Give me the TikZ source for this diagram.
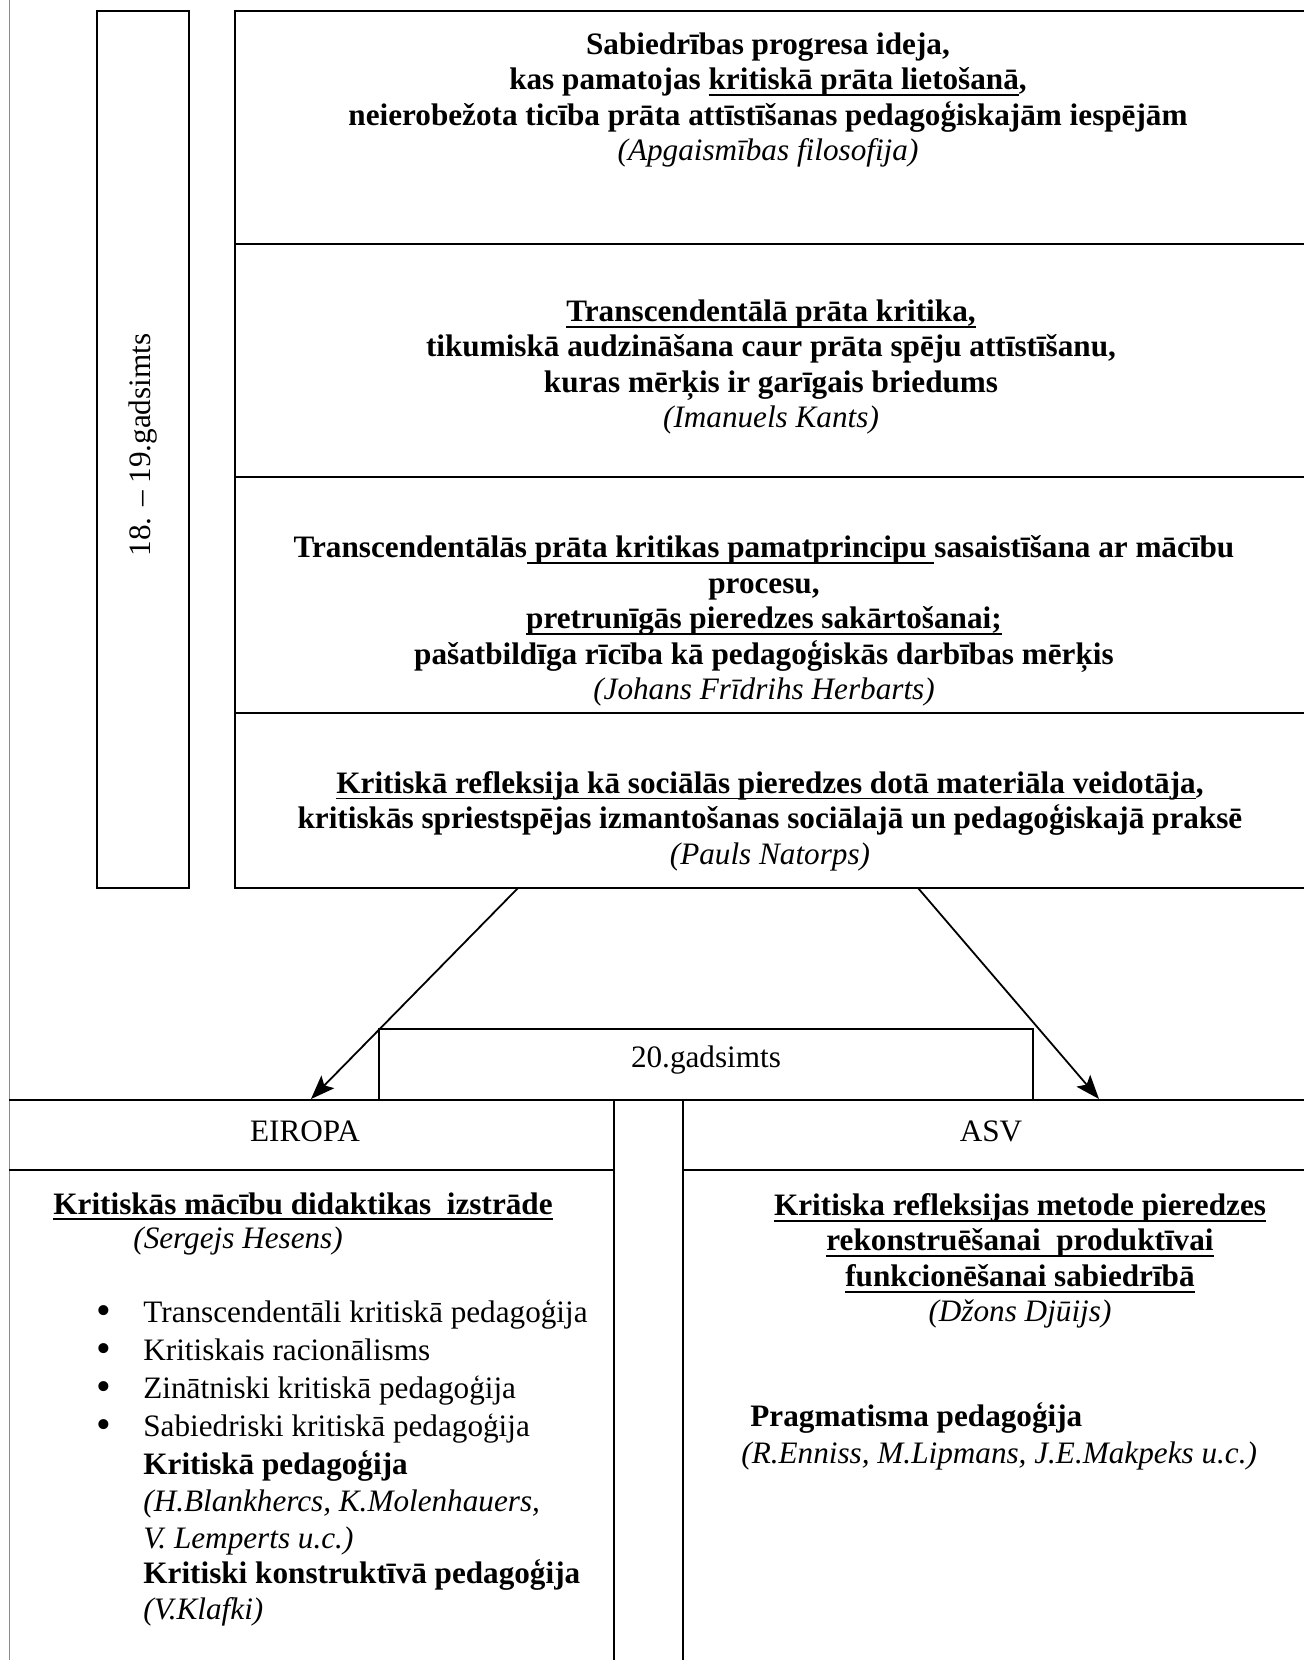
\documentclass[tikz,border=0pt]{standalone}
\usepackage{fontspec}
\setmainfont{Liberation Serif}
\usetikzlibrary{arrows.meta}
\newcommand\myul[1]{\setbox0\hbox{#1}\rlap{\vrule height -2.2pt depth 3.1pt width \wd0}\box0}
\begin{document}
\begin{tikzpicture}[x=0.5pt,y=-0.5pt,
  boxline/.style={draw, line width=1.3pt, rectangle, inner sep=0pt},
  thinbox/.style={draw, line width=0.8pt, rectangle, inner sep=0pt},
  sepline/.style={line width=1.1pt},
  faint/.style={line width=0.5pt, black!45},
  arrowline/.style={line width=0.9pt, -{Stealth[length=12pt,width=9pt,inset=2.5pt]}},
  bodytext/.style={align=center, inner sep=0pt, font=\fontsize{15.6}{17.7}\selectfont\bfseries},
  plaintext/.style={inner sep=0pt, font=\fontsize{15.6}{17.7}\selectfont},
  listtext/.style={inner sep=0pt, anchor=base west, font=\fontsize{15.6}{17.7}\selectfont},
  bulletmark/.style={inner sep=0pt, anchor=base west, font=\fontsize{21}{21}\selectfont},
  bolditem/.style={listtext, font=\fontsize{15.6}{17.7}\selectfont\bfseries},
  italitem/.style={listtext, font=\fontsize{15.6}{17.7}\selectfont\itshape}]
\useasboundingbox (0,0) rectangle (1304,1660);
\clip (0,0) rectangle (1304,1660);
\fill[white] (0,0) rectangle (1304,1660);

% faint scan edge
\draw[faint] (9,0) -- (9,1660);

% timeline box
\node[boxline, minimum width=46pt, minimum height=438.5pt] (tl) at (143,449.5) {};
\node[plaintext, rotate=90] (tltext) at (143,445) {18. – 19.gadsimts};

% main stacked boxes
\node[boxline, minimum width=537.5pt, minimum height=116.5pt] (b1) at (772.5,127.5) {};
\node[boxline, minimum width=537.5pt, minimum height=116.5pt] (b2) at (772.5,360.5) {};
\node[boxline, minimum width=537.5pt, minimum height=118pt] (b3) at (772.5,595) {};
\node[boxline, minimum width=537.5pt, minimum height=87.5pt] (b4) at (772.5,800.5) {};

\node[bodytext] (t1) at (768,100) {Sabiedrības progresa ideja,\\
kas pamatojas \myul{kritiskā prāta lietošanā},\\
neierobežota ticība prāta attīstīšanas pedagoģiskajām iespējām\\
{\mdseries\itshape (Apgaismības filosofija)}};

\node[bodytext] (t2) at (771,367) {\myul{Transcendentālā prāta kritika,}\\
tikumiskā audzināšana caur prāta spēju attīstīšanu,\\
kuras mērķis ir garīgais briedums\\
{\mdseries\itshape (Imanuels Kants)}};

\node[bodytext] (t3) at (764,621) {Transcendentālās\myul{ prāta kritikas pamatprincipu }sasaistīšana ar mācību\\
procesu,\\
\myul{pretrunīgās pieredzes sakārtošanai;}\\
pašatbildīga rīcība kā pedagoģiskās darbības mērķis\\
{\mdseries\itshape (Johans Frīdrihs Herbarts)}};

\node[bodytext] (t4) at (770,821) {\myul{Kritiskā refleksija kā sociālās pieredzes dotā materiāla veidotāja},\\
kritiskās spriestspējas izmantošanas sociālajā un pedagoģiskajā praksē\\
{\mdseries\itshape (Pauls Natorps)}};

% 20th century box
\node[thinbox, minimum width=327pt, minimum height=35.5pt] (g20) at (706,1064.5) {};
\node[plaintext] (g20text) at (706,1060) {20.gadsimts};

% lower frame
\coordinate (hl0) at (9,1100);
\coordinate (hr0) at (1310,1100);
\draw[sepline] (hl0) -- (hr0);
\coordinate (eul) at (9,1170);
\coordinate (eur) at (614,1170);
\coordinate (asl) at (683,1170);
\coordinate (asr) at (1310,1170);
\draw[sepline] (eul) -- (eur);
\draw[sepline] (asl) -- (asr);
\coordinate (eut) at (614,1100);
\coordinate (eub) at (614,1670);
\coordinate (ast) at (683,1100);
\coordinate (asb) at (683,1670);
\draw[sepline] (eut) -- (eub);
\draw[sepline] (ast) -- (asb);

\node[plaintext] (eiropa) at (305,1131) {EIROPA};
\node[plaintext] (asv) at (991,1131) {ASV};

% arrows
\coordinate (s1) at (518,888);
\coordinate (e1) at (311,1099);
\coordinate (s2) at (918,888);
\coordinate (e2) at (1099,1099);
\draw[arrowline] (s1) -- (e1);
\draw[arrowline] (s2) -- (e2);

% Europe column
\node[bolditem] (eutitle) at (53,1214) {\myul{Kritiskās mācību didaktikas\ \ izstrāde}};
\node[italitem] (hesens) at (133,1248) {(Sergejs Hesens)};
\foreach \yy/\txt/\nm in {1322/Transcendentāli kritiskā pedagoģija/li1,
                          1360/Kritiskais racionālisms/li2,
                          1398/Zinātniski kritiskā pedagoģija/li3,
                          1436/Sabiedriski kritiskā pedagoģija/li4}{
  \node[listtext] (\nm) at (143,\yy) {\txt};
  \node[bulletmark] (\nm b) at (96,\yy+2) {•};
}
\node[bolditem] (kp) at (143,1474) {Kritiskā pedagoģija};
\node[italitem] (kpa) at (143,1511) {(H.Blankhercs, K.Molenhauers,};
\node[italitem] (kpb) at (143,1548) {V. Lemperts u.c.)};
\node[bolditem] (kkp) at (143,1583) {Kritiski konstruktīvā pedagoģija};
\node[italitem] (kkpa) at (143,1619) {(V.Klafki)};

% USA column
\node[bodytext] (astitle) at (1020,1261) {\myul{Kritiska refleksijas metode pieredzes}\\
\myul{rekonstruēšanai\ \ produktīvai}\\
\myul{funkcionēšanai sabiedrībā}\\
{\mdseries\itshape (Džons Djūijs)}};
\node[bolditem] (prag) at (750,1426) {Pragmatisma pedagoģija};
\node[italitem] (praga) at (741,1463) {(R.Enniss, M.Lipmans, J.E.Makpeks u.c.)};
\end{tikzpicture}
\end{document}
